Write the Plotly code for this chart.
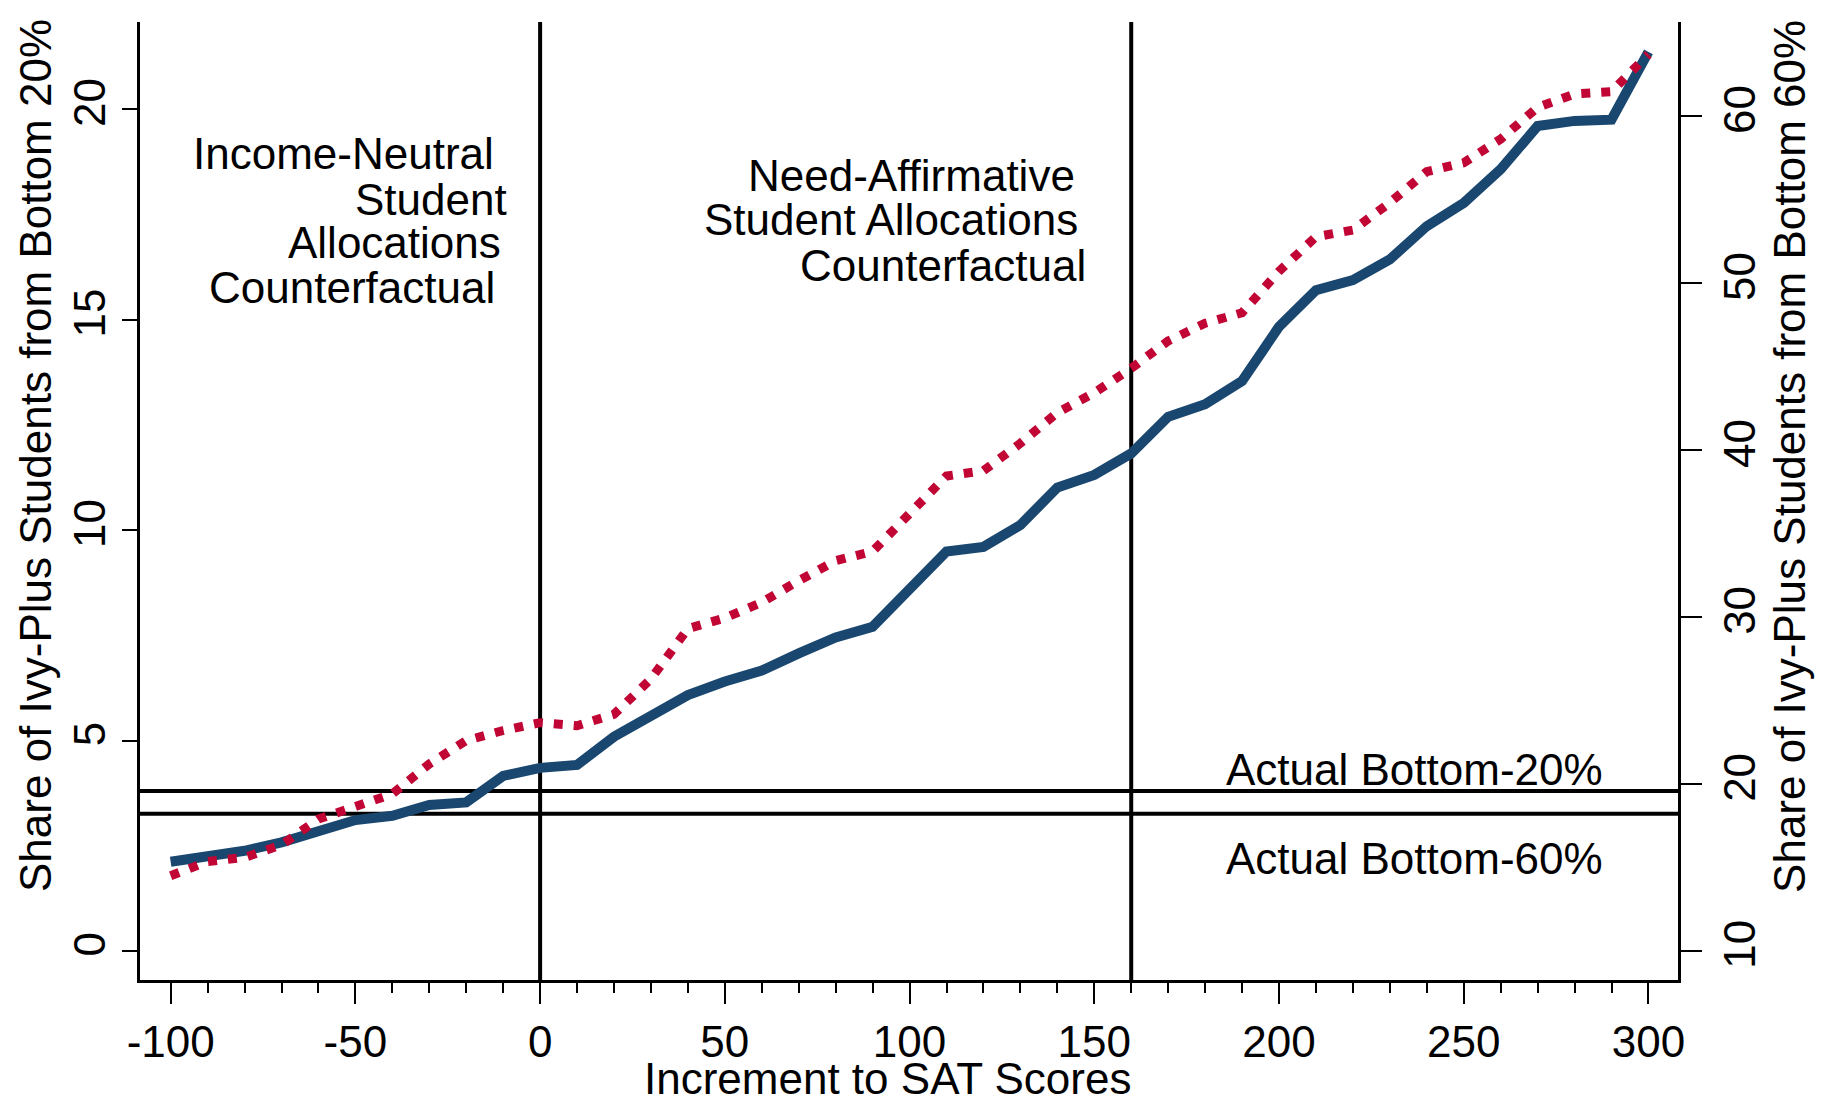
import plotly.graph_objects as go

# SAT increment (points) and shares of Ivy-Plus students (%)
sat_increment = list(range(-100, 301, 10))
share_bottom20 = [
    2.12, 2.24, 2.38, 2.58, 2.82, 3.11, 3.21, 3.47, 3.53, 4.16,
    4.35, 4.42, 5.09, 5.61, 6.08, 6.40, 6.66, 7.07, 7.45, 7.70,
    8.63, 9.49, 9.60, 10.12, 11.01, 11.31, 11.82, 12.69, 12.99, 13.54,
    14.83, 15.70, 15.94, 16.43, 17.22, 17.77, 18.57, 19.60, 19.72, 19.75,
    21.36,
]
share_bottom60 = [
    14.50, 15.35, 15.60, 16.35, 17.90, 18.70, 19.40, 21.20, 22.60, 23.20,
    23.67, 23.49, 24.17, 26.29, 29.30, 29.94, 30.88, 32.17, 33.37, 33.93,
    36.23, 38.44, 38.76, 40.40, 42.23, 43.43, 44.89, 46.53, 47.59, 48.22,
    50.70, 52.77, 53.17, 54.81, 56.67, 57.20, 58.62, 60.52, 61.32, 61.46,
    63.70,
]

# Reference levels and counterfactual cut-offs
actual_bottom20 = 3.80
actual_bottom60 = 18.22
income_neutral_x = 0
need_affirmative_x = 160

x_ticks = [-100, -50, 0, 50, 100, 150, 200, 250, 300]
left_ticks = [0, 5, 10, 15, 20]
right_ticks = [10, 20, 30, 40, 50, 60]

NAVY = "#1a476f"
CRANBERRY = "#c10534"
FONT = "Liberation Sans, Arial, Helvetica, sans-serif"
FS = 44

fig = go.Figure()
fig.add_trace(go.Scatter(
    x=sat_increment, y=share_bottom20, mode="lines",
    line=dict(color=NAVY, width=10), yaxis="y", showlegend=False,
))
fig.add_trace(go.Scatter(
    x=sat_increment, y=share_bottom60, mode="lines",
    line=dict(color=CRANBERRY, width=9, dash="9px,11px"), yaxis="y2", showlegend=False,
))

shapes = []
for xv in (income_neutral_x, need_affirmative_x):
    shapes.append(dict(type="line", xref="x", yref="paper", x0=xv, x1=xv, y0=0, y1=1,
                       line=dict(color="black", width=4), layer="below"))
shapes.append(dict(type="line", xref="paper", yref="y", x0=0, x1=1,
                   y0=actual_bottom20, y1=actual_bottom20,
                   line=dict(color="black", width=4), layer="below"))
shapes.append(dict(type="line", xref="paper", yref="y2", x0=0, x1=1,
                   y0=actual_bottom60, y1=actual_bottom60,
                   line=dict(color="black", width=4), layer="below"))

annotations = []
# Counterfactual labels, one line each, right-aligned
income_lines = [("Income-Neutral", -11.9, 18.95), ("Student", -8.4, 17.86),
                ("Allocations", -10.0, 16.82), ("Counterfactual", -11.6, 15.77)]
need_lines = [("Need-Affirmative", 145.4, 18.42), ("Student Allocations", 146.2, 17.37),
              ("Counterfactual", 148.4, 16.29)]
for txt, xv, yv in income_lines + need_lines:
    annotations.append(dict(text=txt, x=xv, y=yv, xref="x", yref="y",
                            xanchor="right", yanchor="middle", showarrow=False,
                            font=dict(family=FONT, size=FS, color="black")))
annotations.append(dict(text="Actual Bottom-20%", x=185.1, y=4.32, xref="x", yref="y",
                        xanchor="left", yanchor="middle", showarrow=False,
                        font=dict(family=FONT, size=FS, color="black")))
annotations.append(dict(text="Actual Bottom-60%", x=185.1, y=2.19, xref="x", yref="y",
                        xanchor="left", yanchor="middle", showarrow=False,
                        font=dict(family=FONT, size=FS, color="black")))

# Axis titles
annotations.append(dict(text="Share of Ivy-Plus Students from Bottom 20%", textangle=-90,
                        x=-0.0676, y=0.547, xref="paper", yref="paper",
                        xanchor="center", yanchor="middle", showarrow=False,
                        font=dict(family=FONT, size=FS, color="black")))
annotations.append(dict(text="Share of Ivy-Plus Students from Bottom 60%", textangle=-90,
                        x=1.0728, y=0.547, xref="paper", yref="paper",
                        xanchor="center", yanchor="middle", showarrow=False,
                        font=dict(family=FONT, size=FS, color="black")))
annotations.append(dict(text="Increment to SAT Scores",
                        x=0.486, y=-0.103, xref="paper", yref="paper",
                        xanchor="center", yanchor="middle", showarrow=False,
                        font=dict(family=FONT, size=FS, color="black")))

fig.update_layout(
    width=1822, height=1101,
    margin=dict(l=140, r=144, t=22, b=121, autoexpand=False),
    plot_bgcolor="white", paper_bgcolor="white",
    font=dict(family=FONT, size=FS, color="black"),
    shapes=shapes, annotations=annotations,
    xaxis=dict(
        range=[-108.3, 308.0], tickvals=x_ticks, ticktext=[str(v) for v in x_ticks],
        ticks="outside", ticklen=21,
        tickwidth=2, tickcolor="black", showline=True, linecolor="black", linewidth=2.5,
        showgrid=False, zeroline=False,
        minor=dict(dtick=10, tick0=0, ticks="outside", ticklen=10, tickwidth=2,
                   tickcolor="black", showgrid=False),
        tickfont=dict(family=FONT, size=FS),
    ),
    yaxis=dict(
        range=[-0.69, 22.07], tickvals=left_ticks, ticktext=[str(v) for v in left_ticks],
        ticks="outside", ticklen=15,
        tickwidth=2, tickcolor="black", showline=True, linecolor="black", linewidth=2.5,
        showgrid=False, zeroline=False, tickangle=-90,
        tickfont=dict(family=FONT, size=FS),
    ),
    yaxis2=dict(
        range=[8.26, 65.63], tickvals=right_ticks, ticktext=[str(v) for v in right_ticks],
        ticks="outside", ticklen=21,
        tickwidth=2, tickcolor="black", showline=True, linecolor="black", linewidth=2.5,
        showgrid=False, zeroline=False, tickangle=-90, overlaying="y", side="right",
        tickfont=dict(family=FONT, size=FS),
    ),
)

fig.write_html("out.html")
